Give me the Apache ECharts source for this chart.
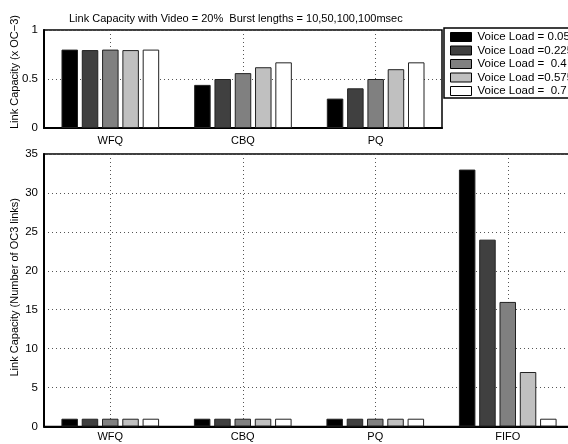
<!DOCTYPE html>
<html>
<head>
<meta charset="utf-8">
<script src="https://cdn.jsdelivr.net/npm/echarts@6/dist/echarts.min.js"></script>
<style>html,body{margin:0;padding:0;background:#fff;}#c{width:568px;height:444px;}</style>
</head>
<body>
<div id="c"></div>
<script>
const titleText = 'Link Capacity with Video = 20%  Burst lengths = 10,50,100,100msec';
const topCategories = ['WFQ', 'CBQ', 'PQ'];
const bottomCategories = ['WFQ', 'CBQ', 'PQ', 'FIFO'];
const seriesNames = ['Voice Load = 0.05', 'Voice Load =0.225', 'Voice Load =  0.4', 'Voice Load =0.575', 'Voice Load =  0.7'];
const seriesColors = ['#000000', '#404040', '#808080', '#c0c0c0', '#ffffff'];
// top panel (x OC-3)
const topLoad005 = [0.80, 0.44, 0.30];
const topLoad0225 = [0.795, 0.50, 0.405];
const topLoad04 = [0.80, 0.56, 0.50];
const topLoad0575 = [0.795, 0.62, 0.60];
const topLoad07 = [0.80, 0.67, 0.67];
// bottom panel (number of OC3 links)
const botLoad005 = [1, 1, 1, 33];
const botLoad0225 = [1, 1, 1, 24];
const botLoad04 = [1, 1, 1, 16];
const botLoad0575 = [1, 1, 1, 7];
const botLoad07 = [1, 1, 1, 1];
const topTicks = [0, 0.5, 1];
const bottomTicks = [0, 5, 10, 15, 20, 25, 30, 35];

const topData = [topLoad005, topLoad0225, topLoad04, topLoad0575, topLoad07];
const botData = [botLoad005, botLoad0225, botLoad04, botLoad0575, botLoad07];

const FONT = 'Liberation Sans, Arial, Helvetica, sans-serif';
const dotted = { show: true, lineStyle: { color: '#555', type: [1, 3], width: 1 } };

function xAxisCfg(gi, cats, margin) {
  return {
    type: 'category', gridIndex: gi, data: cats, boundaryGap: true,
    axisLine: { show: true, lineStyle: { color: '#000', width: 2 } },
    axisTick: { show: true, inside: true, alignWithLabel: true, length: 4, lineStyle: { color: '#000' } },
    axisLabel: { color: '#000', fontSize: 11, fontFamily: FONT, margin: margin },
    splitLine: Object.assign({ alignWithLabel: true }, dotted)
  };
}
function yAxisCfg(gi, max, interval, name, gap, pad) {
  return {
    type: 'value', gridIndex: gi, min: 0, max: max, interval: interval,
    name: name, nameLocation: 'middle', nameGap: gap, nameMoveOverlap: false,
    nameTextStyle: { color: '#000', fontSize: 11, fontFamily: FONT, padding: pad },
    axisLine: { show: true, lineStyle: { color: '#000', width: 2 } },
    axisTick: { show: false },
    axisLabel: { color: '#000', fontSize: 11.5, fontFamily: FONT, margin: 6 },
    splitLine: dotted
  };
}

const series = [];
seriesNames.forEach((n, i) => {
  const style = { color: seriesColors[i], borderColor: '#222', borderWidth: 1 };
  series.push({ name: n, type: 'bar', xAxisIndex: 0, yAxisIndex: 0, data: topData[i],
    barWidth: 16.5, barGap: '23%', itemStyle: style, emphasis: { disabled: true } });
  series.push({ name: n, type: 'bar', xAxisIndex: 1, yAxisIndex: 1, data: botData[i],
    barWidth: 16.5, barGap: '23%', itemStyle: style, emphasis: { disabled: true } });
});

const chart = echarts.init(document.getElementById('c'), null, { renderer: 'canvas' });
chart.setOption({
  animation: false,
  backgroundColor: '#fff',
  textStyle: { fontFamily: FONT },
  title: {
    text: titleText, left: 64, top: 8,
    textStyle: { fontSize: 11, fontWeight: 'normal', color: '#000', fontFamily: FONT }
  },
  legend: {
    data: seriesNames, orient: 'vertical', left: 444, top: 28,
    padding: [3, 6, 1, 6], itemWidth: 21, itemHeight: 9, itemGap: 1.5,
    borderColor: '#000', borderWidth: 1.5, backgroundColor: '#fff',
    icon: 'rect', selectedMode: false,
    itemStyle: { borderColor: '#000', borderWidth: 1 },
    textStyle: { fontSize: 11.5, color: '#000', fontFamily: FONT, lineHeight: 12, padding: [0, 0, 0, 1] }
  },
  grid: [
    { left: 44, top: 30, width: 398, height: 98, show: true, borderColor: '#000', borderWidth: 1.5, backgroundColor: 'transparent', containLabel: false, outerBoundsMode: 'none' },
    { left: 44, top: 154, width: 530, height: 272.5, show: true, borderColor: '#000', borderWidth: 1.5, backgroundColor: 'transparent', containLabel: false, outerBoundsMode: 'none' }
  ],
  xAxis: [xAxisCfg(0, topCategories, 7), xAxisCfg(1, bottomCategories, 5)],
  yAxis: [
    yAxisCfg(0, topTicks[topTicks.length - 1], topTicks[1] - topTicks[0], 'Link Capacity (x OC\u22123)', 24, [0, 0, 0, 14]),
    yAxisCfg(1, bottomTicks[bottomTicks.length - 1], bottomTicks[1] - bottomTicks[0], 'Link Capacity (Number of OC3 links)', 24, [0, 0, 0, 6])
  ],
  series: series
});
</script>
</body>
</html>
